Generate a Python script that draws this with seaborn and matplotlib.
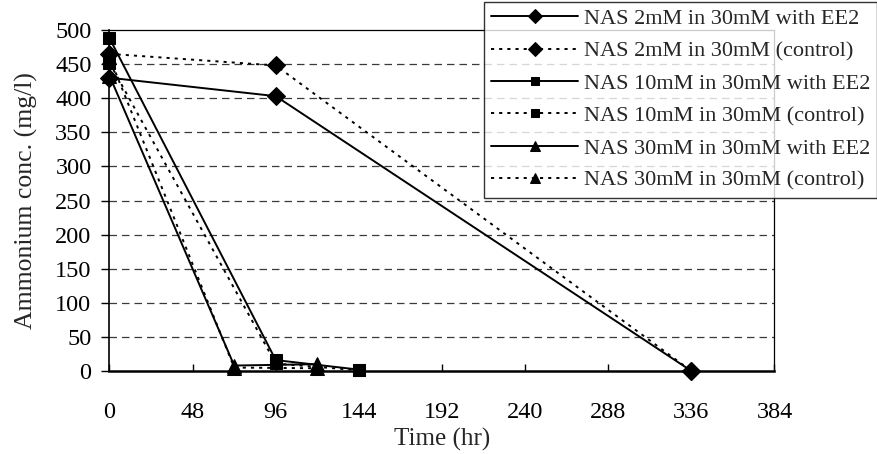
import matplotlib
matplotlib.use("Agg")
import matplotlib.pyplot as plt
import seaborn as sns
import pandas as pd

# ---- data ----
labels = [
    "NAS 2mM in 30mM with EE2",
    "NAS 2mM in 30mM (control)",
    "NAS 10mM in 30mM with EE2",
    "NAS 10mM in 30mM (control)",
    "NAS 30mM in 30mM with EE2",
    "NAS 30mM in 30mM (control)",
]
time_2_ee2 = [0, 96, 336]
conc_2_ee2 = [430, 403, 0]
time_2_ctl = [0, 96, 336]
conc_2_ctl = [465, 448, 0]
time_10_ee2 = [0, 96, 144]
conc_10_ee2 = [488, 16, 2]
time_10_ctl = [0, 96, 144]
conc_10_ctl = [452, 11, 1]
time_30_ee2 = [0, 72, 120]
conc_30_ee2 = [433, 8, 10]
time_30_ctl = [0, 72, 120]
conc_30_ctl = [460, 5, 4]
xticks = [0, 48, 96, 144, 192, 240, 288, 336, 384]
yticks = [0, 50, 100, 150, 200, 250, 300, 350, 400, 450, 500]

dotted = (0, (1.6, 2.6))
series = [
    (labels[0], time_2_ee2, conc_2_ee2, "D", "-"),
    (labels[1], time_2_ctl, conc_2_ctl, "D", dotted),
    (labels[2], time_10_ee2, conc_10_ee2, "s", "-"),
    (labels[3], time_10_ctl, conc_10_ctl, "s", dotted),
    (labels[4], time_30_ee2, conc_30_ee2, "^", "-"),
    (labels[5], time_30_ctl, conc_30_ctl, "^", dotted),
]

sns.set_style("white")
plt.rcParams["font.family"] = ["Liberation Serif", "DejaVu Serif"]

fig = plt.figure(figsize=(8.78, 4.54), dpi=100)
ax = fig.add_axes([109.5 / 878, 1 - 371 / 454, 665 / 878, 341 / 454])

msizes = {"D": 9, "s": 8.5, "^": 9.5}
for lab, t, c, m, ls in series:
    df = pd.DataFrame({"Time": t, "Conc": c})
    sns.lineplot(data=df, x="Time", y="Conc", ax=ax, color="black",
                 marker=m, markersize=msizes[m], linestyle=ls,
                 linewidth=1.4, markeredgecolor="black", label=lab,
                 clip_on=False, zorder=5)

ax.set_xlim(0, 384)
ax.set_ylim(0, 500)
ax.set_xticks(xticks)
ax.set_yticks(yticks)
ax.set_xticklabels([str(v) for v in xticks])
ax.set_yticklabels([str(v) for v in yticks])

for y in yticks[1:-1]:
    ax.axhline(y, color="#3a3a3a", linewidth=0.9, linestyle=(0, (6, 4)), zorder=1)

for s in ["top", "right"]:
    ax.spines[s].set_color("black")
    ax.spines[s].set_linewidth(0.9)
ax.spines["left"].set_color("black")
ax.spines["left"].set_linewidth(1.2)
ax.spines["bottom"].set_color("black")
ax.spines["bottom"].set_linewidth(1.8)

ax.tick_params(axis="x", direction="in", length=5, width=1, colors="black",
               labelsize=17.5, pad=22, bottom=True)
ax.tick_params(axis="y", direction="out", length=6, width=1, colors="black",
               labelsize=17.5, pad=7, left=True)

ax.set_xlabel("Time (hr)", fontsize=18, labelpad=4)
ax.set_ylabel("Ammonium conc. (mg/l)", fontsize=18.5, labelpad=12)

leg = ax.legend(loc="upper right", bbox_to_anchor=(877 / 878, 1 - 2 / 454),
                bbox_transform=fig.transFigure, borderaxespad=0,
                fontsize=16, frameon=True, fancybox=False, edgecolor="black",
                handlelength=3.95, handletextpad=0.25, labelspacing=0.53,
                markerscale=0.75, borderpad=0.3)
leg.get_frame().set_linewidth(1.0)
leg.set_zorder(10)

fig.savefig("out.png", dpi=100)
